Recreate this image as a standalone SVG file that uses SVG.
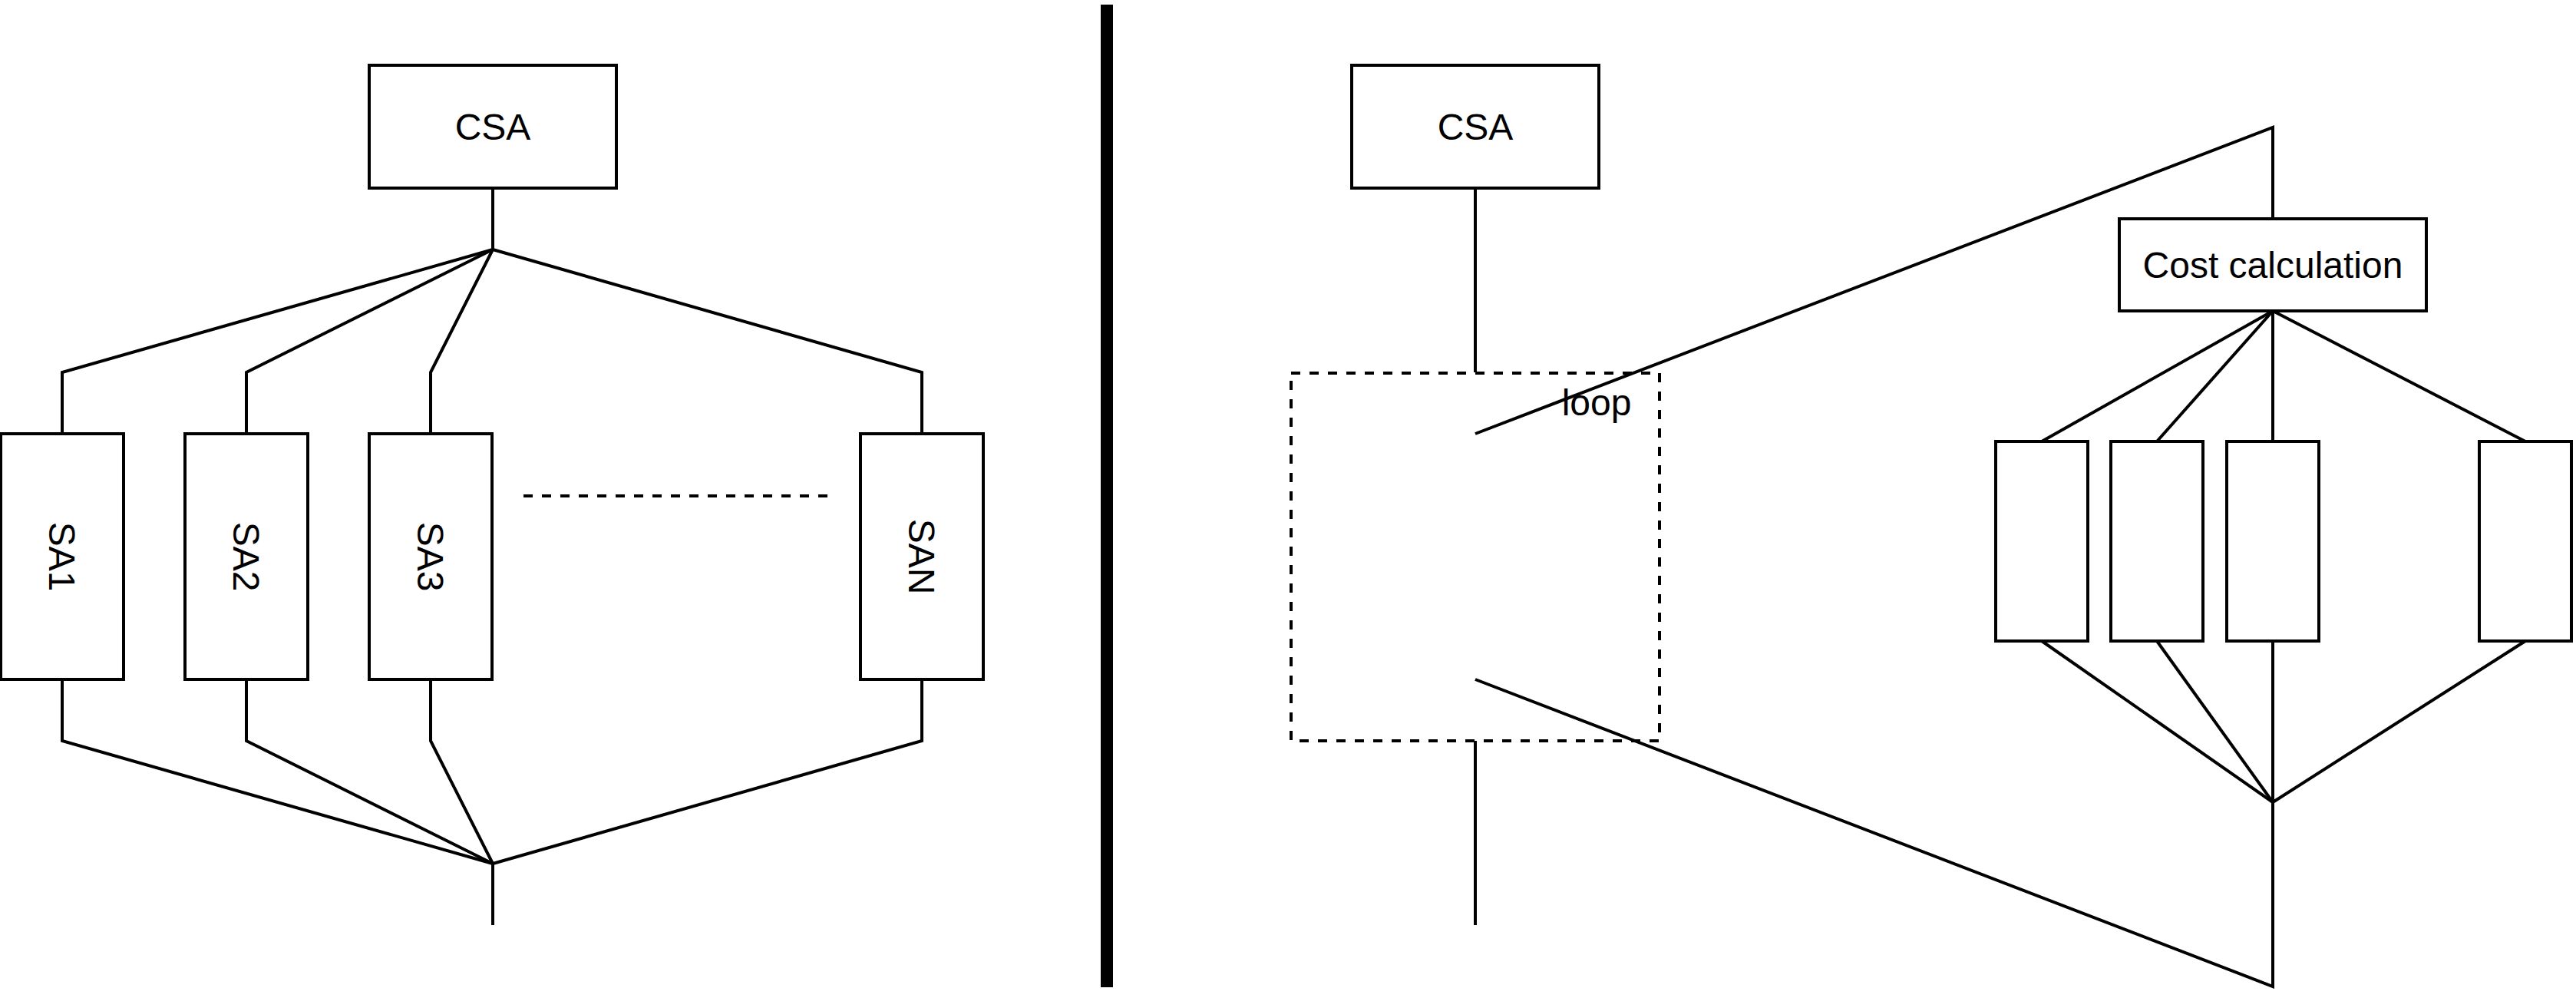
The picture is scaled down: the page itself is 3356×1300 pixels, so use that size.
<svg xmlns="http://www.w3.org/2000/svg" width="3356" height="1300" viewBox="0 0 3356 1300">
<style>
.box{fill:#fff;stroke:#000;stroke-width:4}
.ln{fill:none;stroke:#000;stroke-width:4;stroke-linejoin:miter}
.dash{fill:none;stroke:#000;stroke-width:4;stroke-dasharray:12 12}
.t{font-family:"Liberation Sans",Arial,Helvetica,sans-serif;font-size:48px;fill:#000;text-anchor:middle}
</style>
<rect width="3356" height="1300" fill="#fff"/>
<g id="connectors">
<path class="ln" d="M642,245 V325"/>
<path class="ln" d="M642,325 L81,485 V565"/>
<path class="ln" d="M642,325 L321,485 V565"/>
<path class="ln" d="M642,325 L561,485 V565"/>
<path class="ln" d="M642,325 L1201,485 V565"/>
<path class="ln" d="M81,885 V965 L642,1125"/>
<path class="ln" d="M321,885 V965 L642,1125"/>
<path class="ln" d="M561,885 V965 L642,1125"/>
<path class="ln" d="M1201,885 V965 L642,1125"/>
<path class="ln" d="M642,1125 V1205"/>
<path class="dash" d="M682,646 H1080"/>
<path class="ln" d="M1922,245 V485"/>
<path class="ln" d="M1922,965 V1205"/>
<path class="ln" d="M1922,565 L2961,166 V285"/>
<path class="ln" d="M1922,885 L2961,1285 V1045"/>
<path class="ln" d="M2961,405 L2660,575"/>
<path class="ln" d="M2961,405 L2810,575"/>
<path class="ln" d="M2961,405 V575"/>
<path class="ln" d="M2961,405 L3290,575"/>
<path class="ln" d="M2660,835 L2961,1045"/>
<path class="ln" d="M2810,835 L2961,1045"/>
<path class="ln" d="M2961,835 V1045"/>
<path class="ln" d="M3290,835 L2961,1045"/>
</g>
<g id="divider"><rect x="1434" y="6" width="16" height="1280" fill="#000"/></g>
<g id="csa-left"><rect class="box" x="481" y="85" width="322" height="160"/><text class="t" x="642" y="182">CSA</text></g>
<g id="sa1"><rect class="box" x="1" y="565" width="160" height="320"/><text class="t" transform="translate(81,725) rotate(90)" x="0" y="17">SA1</text></g>
<g id="sa2"><rect class="box" x="241" y="565" width="160" height="320"/><text class="t" transform="translate(321,725) rotate(90)" x="0" y="17">SA2</text></g>
<g id="sa3"><rect class="box" x="481" y="565" width="160" height="320"/><text class="t" transform="translate(561,725) rotate(90)" x="0" y="17">SA3</text></g>
<g id="san"><rect class="box" x="1121" y="565" width="160" height="320"/><text class="t" transform="translate(1201,725) rotate(90)" x="0" y="17">SAN</text></g>
<g id="csa-right"><rect class="box" x="1761" y="85" width="322" height="160"/><text class="t" x="1922" y="182">CSA</text></g>
<g id="loop"><rect class="dash" x="1682" y="486" width="480" height="479"/><text class="t" x="2080" y="541">loop</text></g>
<g id="cost"><rect class="box" x="2761" y="285" width="400" height="120"/><text class="t" x="2961" y="362">Cost calculation</text></g>
<g id="r1"><rect class="box" x="2600" y="575" width="120" height="260"/></g>
<g id="r2"><rect class="box" x="2750" y="575" width="120" height="260"/></g>
<g id="r3"><rect class="box" x="2901" y="575" width="120" height="260"/></g>
<g id="r4"><rect class="box" x="3230" y="575" width="120" height="260"/></g>
</svg>
